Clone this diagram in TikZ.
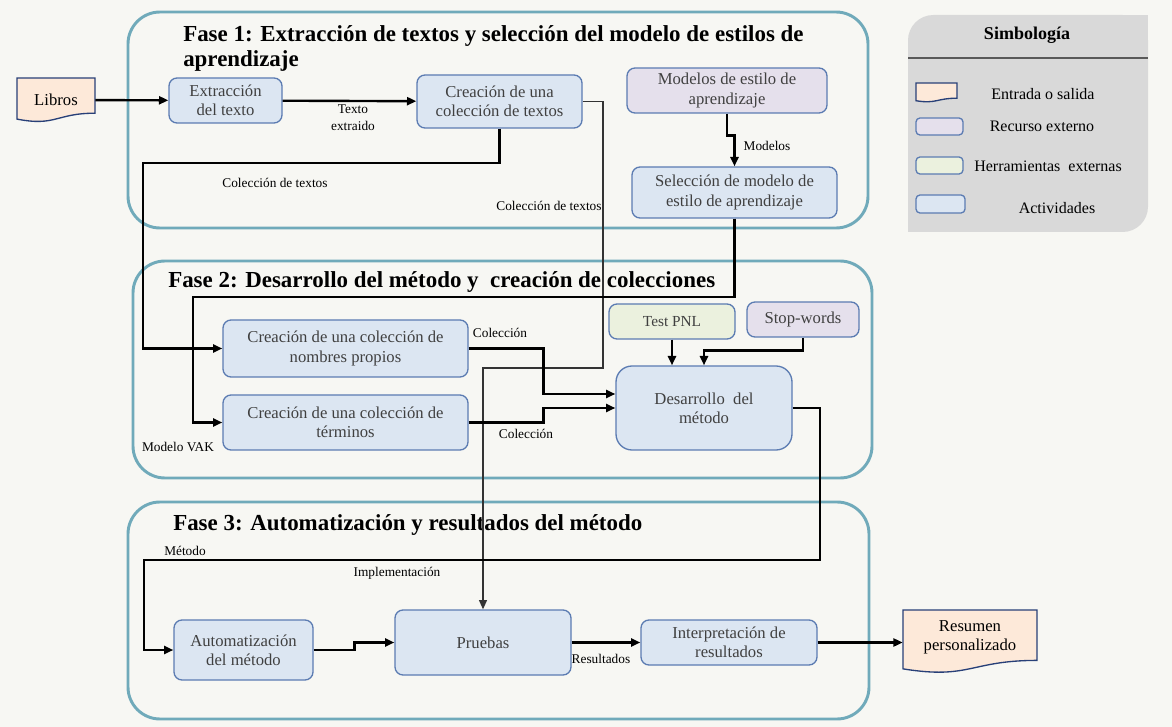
\documentclass[tikz,border=0pt]{standalone}
\usepackage{fontspec}
\setmainfont{Liberation Serif}
\usetikzlibrary{arrows.meta}

\definecolor{fondo}{RGB}{247,247,243}
\definecolor{fase}{RGB}{112,170,186}
\definecolor{actfill}{RGB}{220,230,242}
\definecolor{actline}{RGB}{92,124,178}
\definecolor{docfill}{RGB}{253,233,217}
\definecolor{docline}{RGB}{40,64,120}
\definecolor{recfill}{RGB}{229,224,236}
\definecolor{herrfill}{RGB}{235,241,222}
\definecolor{legfill}{RGB}{217,217,217}
\definecolor{txtgray}{RGB}{64,64,64}

\newcommand\boxfont{\fontsize{12.5}{14.5}\selectfont}
\newcommand\lblfont{\fontsize{10}{12.5}\selectfont}
\newcommand\titlefont{\fontsize{17.2}{18.75}\selectfont\bfseries}
\newcommand\legfont{\fontsize{12}{14}\selectfont}
\newcommand\legtitlefont{\fontsize{13.5}{16}\selectfont\bfseries}
% documento con borde inferior ondulado: x0,y0,x1,y1
\newcommand\docpath[4]{(#1,#2) -- (#3,#2) -- (#3,{#2+0.80*(#4-#2)}) .. controls ({(#1+#3)/2},{#2+0.80*(#4-#2)}) and ({(#1+#3)/2},{#2+1.107*(#4-#2)}) .. (#1,{#2+0.934*(#4-#2)}) -- cycle}

\begin{document}
\begin{tikzpicture}[x=0.75pt,y=-0.75pt,
		flow/.style={line width=1.8pt,-{Triangle[length=7pt,width=6pt]}},
		flowthin/.style={line width=1pt,draw=black!80,-{Triangle[length=7pt,width=6pt]}},
		frame/.style={draw=fase,line width=2.2pt,rounded corners=24pt},
		act/.style={draw=actline,fill=actfill,line width=1pt,rounded corners=6pt,align=center,text=txtgray,font=\boxfont,inner sep=2pt},
		rec/.style={act,fill=recfill},
		herr/.style={act,fill=herrfill},
		docshape/.style={fill=docfill,draw=docline,line width=1pt},
		doctext/.style={align=center,font=\boxfont,inner sep=0pt},
		lbl/.style={font=\lblfont,inner sep=0pt,align=center},
		legtxt/.style={font=\legfont,inner sep=0pt},
		titulo/.style={font=\titlefont,inner sep=0pt,align=left},
		wh/.style 2 args={minimum width=#1*0.75pt,minimum height=#2*0.75pt}
		]
		\fill[fondo] (0,0) rectangle (1172,727);
		%FASES
		\draw[frame] (128,12) rectangle (868,228);
		\draw[frame] (133,261) rectangle (872,478);
		\draw[frame] (128,502) rectangle (869,719);
		\node[titulo,anchor=north west] (t1) at (183,25) {Fase 1: Extracción de textos y selección del modelo de estilos de\\aprendizaje};
		\node[titulo,anchor=base west] (t2) at (168,288) {Fase 2: Desarrollo del método y~~creación de colecciones};
		\node[titulo,anchor=base west] (t3) at (173,530) {Fase 3: Automatización y resultados del método};
		%ENTRADA Y SALIDA
		\path[docshape] \docpath{17}{78}{95}{122};
		\node[doctext,wh={78}{44}] (libros) at (56,100) {Libros};
		\path[docshape] \docpath{903}{610}{1037}{673};
		\node[doctext,wh={134}{56}] (resumen) at (970,637) {Resumen\\personalizado};
		%ACTIVIDADES
		\node[act,wh={113}{45}] (extr) at (225.5,100.5) {Extracción\\del texto};
		\node[act,wh={165}{53}] (coltex) at (499.5,101.5) {Creación de una\\colección de textos};
		\node[rec,wh={200}{45}] (modelos) at (727,90.5) {Modelos de estilo de\\aprendizaje};
		\node[act,wh={205}{51}] (selec) at (734.5,192.5) {Selección de modelo de\\estilo de aprendizaje};
		\node[act,wh={245}{57}] (nombres) at (345.5,348.5) {Creación de una colección de\\nombres propios};
		\node[act,wh={245}{55}] (terminos) at (345.5,422.5) {Creación de una colección de\\términos};
		\node[herr,wh={126}{35},font=\fontsize{11.5}{13}\selectfont] (testpnl) at (672,321.5) {Test PNL};
		\node[rec,wh={112}{35}] (stopw) at (803,319.5) {Stop-words};
		\node[act,wh={176}{84},rounded corners=12pt] (desarr) at (704,408) {Desarrollo~~del\\método};
		\node[act,wh={139}{60}] (autom) at (243.5,650) {Automatización\\del método};
		\node[act,wh={176}{65}] (pruebas) at (483,642.5) {Pruebas};
		\node[act,wh={176}{45}] (interp) at (729,642.5) {Interpretación de\\resultados};
		%CONEXIONES
		\coordinate (c1) at (143,163);
		\coordinate (c2) at (603,368);
		\coordinate (c3) at (193,297);
		\coordinate (c5) at (820,560);
		\coordinate (c6) at (144,560);
		\draw[flow] (libros) -- (extr);
		\draw[flow] (extr) -- (coltex);
		\draw[flow] (coltex.south) |- (c1) |- (nombres.west);
		\draw[flowthin] (coltex.east) -| (c2) -| (pruebas.north);
		\draw[flow] (modelos.south) -- ++(0,22) -| (selec.north);
		\draw[flow] (selec.south) |- (c3) |- (terminos.west);
		\draw[flow] (nombres.east) -- ++(75,0) |- ([yshift=10.5pt]desarr.west);
		\draw[flow] (terminos.east) -- ++(75,0) |- (desarr.west);
		\draw[flow] (testpnl.south) -- (testpnl.south |- desarr.north);
		\draw[flow] (stopw.south) -- ++(0,13) -| (desarr.north);
		\draw[flow] (desarr.east) -| (c5) -- (c6) |- (autom.west);
		\draw[flow] (autom.east) -- ++(41,0) |- (pruebas.west);
		\draw[flow] (pruebas) -- (interp);
		\draw[flow] (interp.east) -- (interp.east -| resumen.west);
		%ETIQUETAS
		\node[lbl] (lbltexto) at (353,118) {Texto\\extraido};
		\node[lbl] (lblcol1) at (275,183) {Colección de textos};
		\node[lbl] (lblcol2) at (549,206) {Colección de textos};
		\node[lbl] (lblmod) at (767,146) {Modelos};
		\node[lbl] (lblcoln) at (500,333) {Colección};
		\node[lbl] (lblcolt) at (526,434) {Colección};
		\node[lbl] (lblvak) at (178,447) {Modelo VAK};
		\node[lbl] (lblmet) at (185,551) {Método};
		\node[lbl] (lblimp) at (397,573) {Implementación};
		\node[lbl] (lblres) at (601,659) {Resultados};
		%SIMBOLOGIA
		\fill[legfill,rounded corners=19pt] (908,15) rectangle (1148,232);
		\fill[legfill] (1100,15) rectangle (1148,60);
		\fill[legfill] (908,190) rectangle (960,232);
		\draw[black!65,line width=1.5pt] (908,58) -- (1148,58);
		\node[font=\legtitlefont] (simb) at (1027,35) {Simbología};
		\path[docshape] \docpath{916}{83}{957}{102};
		\node[rec,wh={47}{17},rounded corners=3pt] (legrec) at (939.5,126.5) {};
		\node[herr,wh={47}{17},rounded corners=3pt] (legherr) at (939.5,165.5) {};
		\node[act,wh={49}{18},rounded corners=3pt] (legact) at (940.5,204) {};
		\node[legtxt] (legdoct) at (1043,94) {Entrada o salida};
		\node[legtxt] (legrect) at (1042,126) {Recurso externo};
		\node[legtxt] (legherrt) at (1048,166) {Herramientas~~externas};
		\node[legtxt] (legactt) at (1057,208) {Actividades};
	\end{tikzpicture}
\end{document}
